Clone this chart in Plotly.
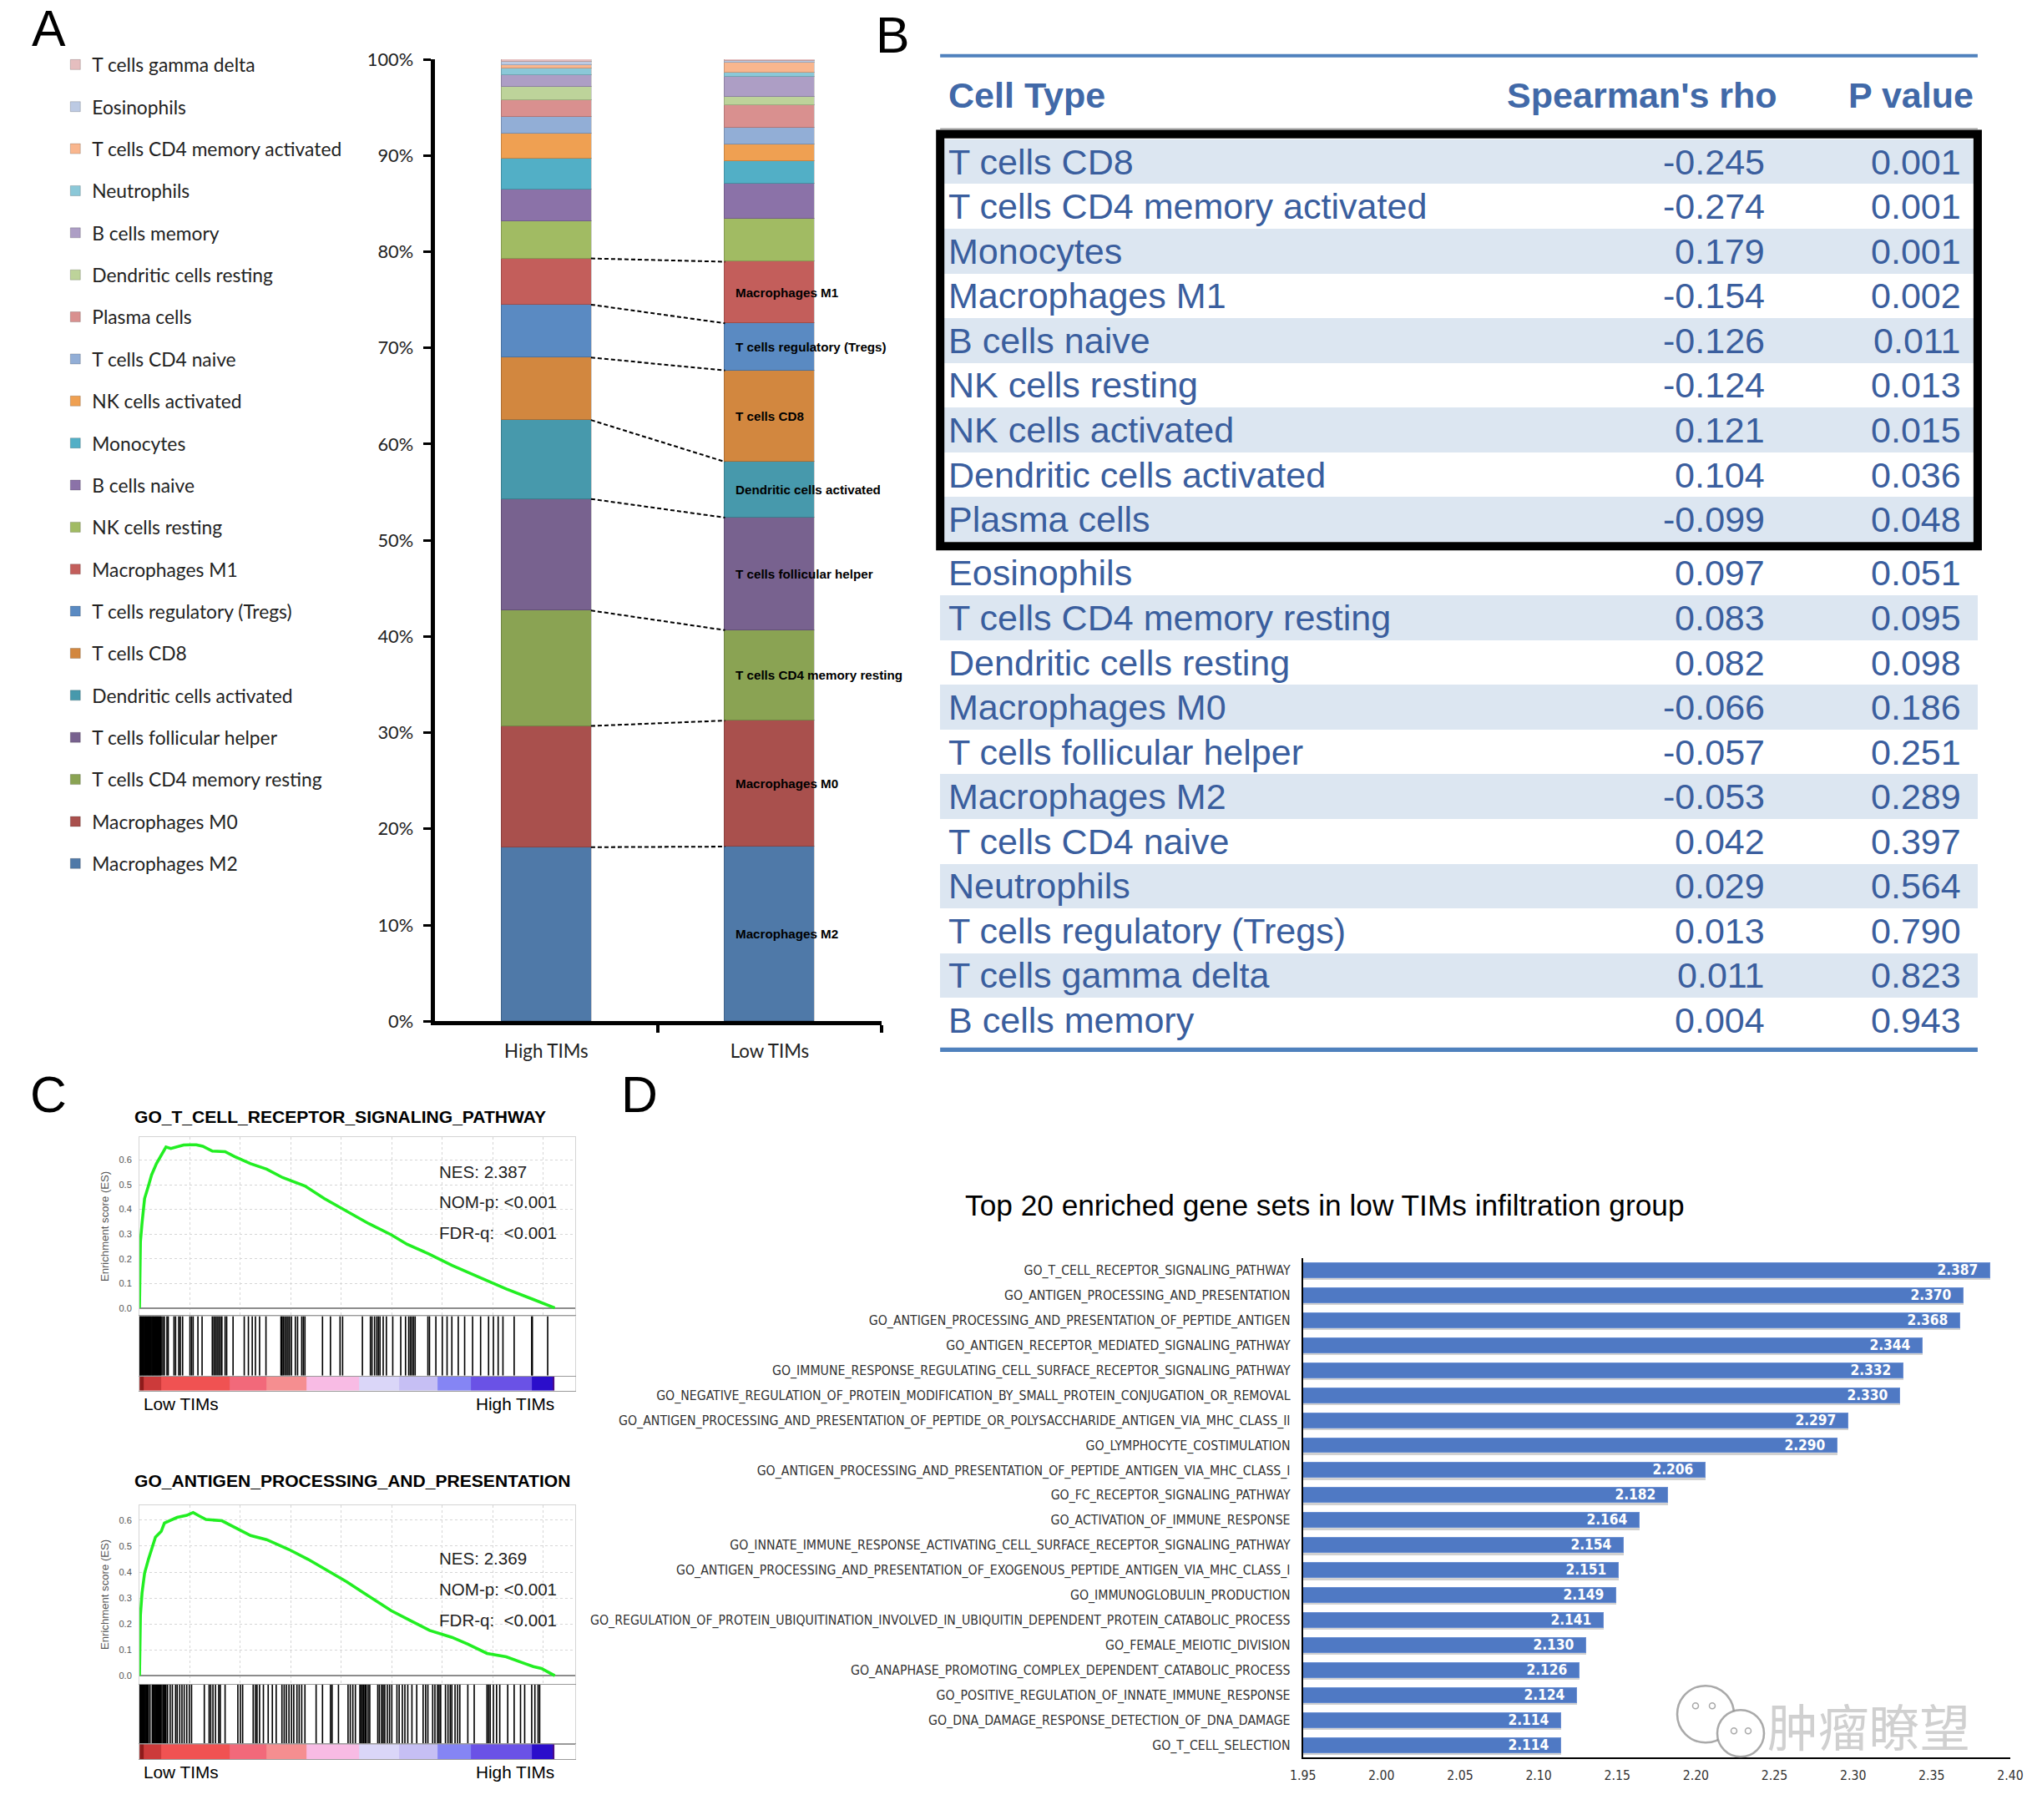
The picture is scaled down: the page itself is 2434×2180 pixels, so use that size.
import plotly.graph_objects as go

W, H = 2434, 2180
# positions below are given in target-picture pixels and mapped to page pixels
SX, OX = 0.987, 14.7
SY, OY = 0.987, 14.0
SF = 0.987

def fx(p):
    return (p - OX) / SX / W

def fy(p):
    return 1 - (p - OY) / SY / H

def fs(v):
    return v / SF

# ---------------- Panel A data ----------------
groups_a = ["High TIMs", "Low TIMs"]
cell_types_a = ["Macrophages M2", "Macrophages M0", "T cells CD4 memory resting",
                "T cells follicular helper", "Dendritic cells activated", "T cells CD8",
                "T cells regulatory (Tregs)", "Macrophages M1", "NK cells resting",
                "B cells naive", "Monocytes", "NK cells activated", "T cells CD4 naive",
                "Plasma cells", "Dendritic cells resting", "B cells memory", "Neutrophils",
                "T cells CD4 memory activated", "Eosinophils", "T cells gamma delta"]
high_tims = [18.1, 12.6, 12.0, 11.6, 8.2, 6.5, 5.5, 4.8, 3.9, 3.24, 3.22, 2.61, 1.77,
             1.67, 1.45, 1.19, 0.69, 0.37, 0.31, 0.28]
low_tims = [18.16, 13.1, 9.4, 11.7, 5.8, 9.5, 4.9, 6.4, 4.45, 3.65, 2.32, 1.8, 1.74,
            2.31, 0.87, 2.08, 0.44, 1.04, 0.2, 0.14]
colors_a = ["#4F79A8", "#A9504D", "#8AA353", "#78628F", "#4799AC", "#D2873F", "#5A8AC2",
            "#C35E5B", "#A1BB63", "#8B72A8", "#52AFC6", "#EFA052", "#92AED6", "#D9908F",
            "#BDD39A", "#AD9EC5", "#8BC8D8", "#F9B68E", "#BCCAE3", "#E5BEBF"]
n_labeled_a = 8
pct_ticks = [0, 10, 20, 30, 40, 50, 60, 70, 80, 90, 100]

# ---------------- Panel B data ----------------
table_cells = ["T cells CD8", "T cells CD4 memory activated", "Monocytes", "Macrophages M1",
               "B cells naive", "NK cells resting", "NK cells activated",
               "Dendritic cells activated", "Plasma cells", "Eosinophils",
               "T cells CD4 memory resting", "Dendritic cells resting", "Macrophages M0",
               "T cells follicular helper", "Macrophages M2", "T cells CD4 naive",
               "Neutrophils", "T cells regulatory (Tregs)", "T cells gamma delta",
               "B cells memory"]
table_rho = [-0.245, -0.274, 0.179, -0.154, -0.126, -0.124, 0.121, 0.104, -0.099, 0.097,
             0.083, 0.082, -0.066, -0.057, -0.053, 0.042, 0.029, 0.013, 0.011, 0.004]
table_p = [0.001, 0.001, 0.001, 0.002, 0.011, 0.013, 0.015, 0.036, 0.048, 0.051, 0.095,
           0.098, 0.186, 0.251, 0.289, 0.397, 0.564, 0.790, 0.823, 0.943]
table_header = ["Cell Type", "Spearman's rho", "P value"]
n_boxed = 9

# ---------------- Panel C data ----------------
gsea_titles = ["GO_T_CELL_RECEPTOR_SIGNALING_PATHWAY", "GO_ANTIGEN_PROCESSING_AND_PRESENTATION"]
gsea_nes = ["2.387", "2.369"]
es1_rank = [0, 47, 127, 253, 443, 601, 839, 1155, 1313, 1551, 1867, 2184, 2500, 2816, 3133,
            3608, 4241, 4715, 5506, 6297, 7089, 8196, 9146, 10253, 11361, 12468, 13259,
            14367, 15475, 16899, 18165, 19430, 20063, 20570]
es1_score = [0.0, 0.269, 0.345, 0.444, 0.495, 0.54, 0.585, 0.63, 0.653, 0.647, 0.653, 0.661,
             0.662, 0.662, 0.656, 0.636, 0.634, 0.614, 0.585, 0.563, 0.529, 0.495, 0.444,
             0.393, 0.342, 0.297, 0.258, 0.218, 0.173, 0.122, 0.077, 0.037, 0.015, 0.0]
es2_rank = [0, 47, 127, 253, 443, 633, 791, 1076, 1234, 1551, 1867, 2342, 2658, 2975, 3291,
            4082, 4715, 5506, 6297, 7405, 8354, 9304, 10253, 11203, 12468, 13418, 14367,
            15475, 16266, 17215, 18165, 19114, 19509, 19905, 20570]
es2_score = [0.0, 0.234, 0.32, 0.396, 0.449, 0.492, 0.535, 0.557, 0.589, 0.6, 0.611, 0.619,
             0.63, 0.616, 0.603, 0.598, 0.573, 0.541, 0.525, 0.487, 0.449, 0.406, 0.363,
             0.315, 0.251, 0.213, 0.175, 0.148, 0.122, 0.086, 0.073, 0.046, 0.035, 0.028, 0.0]
hits1 = [0, 25, 61, 90, 134, 170, 205, 241, 280, 318, 352, 395, 430, 468, 505, 541, 580,
         622, 655, 693, 730, 772, 810, 846, 885, 921, 962, 1001, 1040, 1076,
         1155, 1234, 1361, 1424, 1709, 1788, 1946, 2025, 2136, 2500, 2579, 2658, 2895, 3101,
         3607, 3686, 3765, 3844, 3924, 4003, 4082, 4240, 4319, 4635, 5189, 5395, 5585, 5743,
         5948, 6265, 7008, 7056, 7119, 7198, 7277, 7356, 7435, 7530, 7720, 7831, 8036, 8116,
         8195, 9065, 9460, 9935, 10061, 11042, 11438, 11517, 11644, 11754, 11833, 11912,
         12071, 12229, 12545, 12941, 13178, 13336, 13415, 13494, 13574, 13653, 14285, 14365,
         14681, 14998, 15235, 15472, 15789, 16105, 16500, 16896, 17291, 17529, 17766, 18003,
         18557, 19427, 19459, 20218]
hits2 = [0, 31, 68, 102, 140, 177, 215, 250, 289, 325, 362, 400, 443, 522,
         633, 668, 705, 744, 780, 818, 856, 893, 930, 968, 1005, 1040, 1076,
         1155, 1195, 1236, 1275, 1313, 1392, 1519, 1629, 1788, 1867, 1993, 2104, 2215, 2342,
         2468, 2579, 3211, 3449, 3528, 3639, 3765, 3924, 4003, 4240, 4873, 4999, 5110, 5632,
         5743, 5822, 5948, 6138, 6375, 6581, 6771, 7056, 7167, 7277, 7404, 7530, 7641, 7799,
         7910, 8036, 8195, 8749, 9065, 9460, 9539, 9856, 10330, 10441, 10568, 10694, 10916,
         10979, 11042, 11106, 11169, 11232, 11327, 11406, 11802, 11881, 11991, 12071, 12150,
         12276, 12387, 12498, 12751, 12862, 13020, 13146, 13289, 13494, 13732, 14048, 14175,
         14285, 14523, 14634, 14760, 14839, 14918, 15156, 15282, 15393, 15472, 15630, 15757,
         15867, 16263, 16579, 17212, 17291, 17370, 17529, 17687, 17845, 18240, 18557, 18873,
         19079, 19427, 19585, 19743, 19822]
rank_edges = [0, 206, 1076, 4477, 6297, 8274, 10884, 12862, 14760, 16421, 19427, 20460, 20570]
rank_colors = ["#8E1B1B", "#CC3A3A", "#F05252", "#F2697A", "#F58E90", "#F8BBE4", "#DAD6F8",
               "#C6BFF4", "#8585F4", "#6A52E6", "#2B0ECB", "#4A0C86"]
es_ticks = [0.0, 0.1, 0.2, 0.3, 0.4, 0.5, 0.6]

# ---------------- Panel D data ----------------
gene_sets = ["GO_T_CELL_RECEPTOR_SIGNALING_PATHWAY", "GO_ANTIGEN_PROCESSING_AND_PRESENTATION",
             "GO_ANTIGEN_PROCESSING_AND_PRESENTATION_OF_PEPTIDE_ANTIGEN",
             "GO_ANTIGEN_RECEPTOR_MEDIATED_SIGNALING_PATHWAY",
             "GO_IMMUNE_RESPONSE_REGULATING_CELL_SURFACE_RECEPTOR_SIGNALING_PATHWAY",
             "GO_NEGATIVE_REGULATION_OF_PROTEIN_MODIFICATION_BY_SMALL_PROTEIN_CONJUGATION_OR_REMOVAL",
             "GO_ANTIGEN_PROCESSING_AND_PRESENTATION_OF_PEPTIDE_OR_POLYSACCHARIDE_ANTIGEN_VIA_MHC_CLASS_II",
             "GO_LYMPHOCYTE_COSTIMULATION",
             "GO_ANTIGEN_PROCESSING_AND_PRESENTATION_OF_PEPTIDE_ANTIGEN_VIA_MHC_CLASS_I",
             "GO_FC_RECEPTOR_SIGNALING_PATHWAY", "GO_ACTIVATION_OF_IMMUNE_RESPONSE",
             "GO_INNATE_IMMUNE_RESPONSE_ACTIVATING_CELL_SURFACE_RECEPTOR_SIGNALING_PATHWAY",
             "GO_ANTIGEN_PROCESSING_AND_PRESENTATION_OF_EXOGENOUS_PEPTIDE_ANTIGEN_VIA_MHC_CLASS_I",
             "GO_IMMUNOGLOBULIN_PRODUCTION",
             "GO_REGULATION_OF_PROTEIN_UBIQUITINATION_INVOLVED_IN_UBIQUITIN_DEPENDENT_PROTEIN_CATABOLIC_PROCESS",
             "GO_FEMALE_MEIOTIC_DIVISION", "GO_ANAPHASE_PROMOTING_COMPLEX_DEPENDENT_CATABOLIC_PROCESS",
             "GO_POSITIVE_REGULATION_OF_INNATE_IMMUNE_RESPONSE",
             "GO_DNA_DAMAGE_RESPONSE_DETECTION_OF_DNA_DAMAGE", "GO_T_CELL_SELECTION"]
nes_values = [2.387, 2.370, 2.368, 2.344, 2.332, 2.330, 2.297, 2.290, 2.206, 2.182, 2.164,
              2.154, 2.151, 2.149, 2.141, 2.130, 2.126, 2.124, 2.114, 2.114]
d_title = "Top 20 enriched gene sets in low TIMs infiltration group"

SANS = "Liberation Sans, Arial, sans-serif"
NARROW = "Liberation Sans Narrow, DejaVu Sans Condensed, Arial Narrow, sans-serif"
CAL = "Lato, Open Sans, sans-serif"

fig = go.Figure()
annotations = []
shapes = []

# ================= Panel A =================
for k, (name, hv, lv, col) in enumerate(zip(cell_types_a, high_tims, low_tims, colors_a)):
    fig.add_trace(go.Bar(x=[0, 1], y=[hv, lv], name=name, width=0.4025,
                         marker=dict(color=col, line=dict(color="rgba(0,0,0,0.18)", width=1)),
                         legendgroup=name, legendrank=1000 - k, xaxis="x", yaxis="y",
                         hoverinfo="name+y"))

cum_h, cum_l = 0.0, 0.0
con_x, con_y = [], []
for i in range(n_labeled_a):
    lo_l = cum_l
    cum_h += high_tims[i]
    cum_l += low_tims[i]
    con_x += [0.2, 0.8, None]
    con_y += [cum_h, cum_l, None]
    annotations.append(dict(x=0.84, y=(lo_l + cum_l) / 2, xref="x", yref="y",
                            text="<b>" + cell_types_a[i] + "</b>", showarrow=False,
                            xanchor="left", yanchor="middle",
                            font=dict(family=SANS, size=fs(15), color="black")))
fig.add_trace(go.Scatter(x=con_x, y=con_y, mode="lines", showlegend=False,
                         line=dict(color="black", width=fs(2), dash="5px,3px"),
                         xaxis="x", yaxis="y", hoverinfo="skip"))

# ================= Panel B (table) =================
row_pos = [i + (0.2 if i >= n_boxed else 0.0) for i in range(len(table_cells))]
row_fill = ["#DCE6F1" if i % 2 == 0 else "rgba(255,255,255,0)" for i in range(len(table_cells))]
fig.add_trace(go.Bar(y=row_pos, x=[0.992] * len(row_pos), base=0.004, orientation="h",
                     width=1.0, marker=dict(color=row_fill, line=dict(width=0)),
                     showlegend=False, xaxis="x2", yaxis="y2", hoverinfo="skip"))
TBL_BLUE = "#3A5E9E"
for u, c, r, p in zip(row_pos, table_cells, table_rho, table_p):
    annotations.append(dict(x=0.0104, y=u, xref="x2", yref="y2", text=c, showarrow=False,
                            xanchor="left", yanchor="middle",
                            font=dict(family=SANS, size=fs(42.5), color=TBL_BLUE)))
    annotations.append(dict(x=0.794, y=u, xref="x2", yref="y2", text=f"{r:.3f}",
                            showarrow=False, xanchor="right", yanchor="middle",
                            font=dict(family=SANS, size=fs(42.5), color=TBL_BLUE)))
    annotations.append(dict(x=0.982, y=u, xref="x2", yref="y2", text=f"{p:.3f}",
                            showarrow=False, xanchor="right", yanchor="middle",
                            font=dict(family=SANS, size=fs(42.5), color=TBL_BLUE)))
hdr_x = [0.0104, 0.806, 0.9936]
hdr_anchor = ["left", "right", "right"]
for t, xx, an in zip(table_header, hdr_x, hdr_anchor):
    annotations.append(dict(x=xx, y=-1.486, xref="x2", yref="y2", text="<b>" + t + "</b>",
                            showarrow=False, xanchor=an, yanchor="middle",
                            font=dict(family=SANS, size=fs(42.5), color="#4169A8")))
shapes += [
    dict(type="line", xref="x2", yref="y2", x0=0.004, x1=0.996, y0=-2.37, y1=-2.37,
         line=dict(color="#4F81BD", width=fs(4))),
    dict(type="line", xref="x2", yref="y2", x0=0.004, x1=0.996, y0=-0.738, y1=-0.738,
         line=dict(color="#A6A6A6", width=fs(1.5))),
    dict(type="line", xref="x2", yref="y2", x0=0.004, x1=0.996, y0=19.86, y1=19.86,
         line=dict(color="#4F81BD", width=fs(5))),
    dict(type="rect", xref="x2", yref="y2", x0=0.004, x1=0.996, y0=-0.617,
         y1=n_boxed - 1 + 0.598, line=dict(color="black", width=fs(10))),
]

# ================= Panel C (GSEA) =================
gsea_specs = [
    dict(ax=("x3", "y3"), bx=("x4", "y4"), cx=("x5", "y5"), rank=es1_rank, es=es1_score,
         hits=hits1),
    dict(ax=("x6", "y6"), bx=("x7", "y7"), cx=("x8", "y8"), rank=es2_rank, es=es2_score,
         hits=hits2),
]
n_seg = len(rank_colors)
cscale = []
for k, c in enumerate(rank_colors):
    cscale.append([k / n_seg, c])
    cscale.append([(k + 1) / n_seg, c])
for spec in gsea_specs:
    fig.add_trace(go.Scatter(x=spec["rank"], y=spec["es"], mode="lines", showlegend=False,
                             line=dict(color="#22EE22", width=fs(3.5)),
                             xaxis=spec["ax"][0], yaxis=spec["ax"][1], hoverinfo="skip"))
    hx, hy = [], []
    for h in spec["hits"]:
        hx += [h, h, None]
        hy += [0, 1, None]
    fig.add_trace(go.Scatter(x=hx, y=hy, mode="lines", showlegend=False,
                             line=dict(color="black", width=fs(1.6)),
                             xaxis=spec["bx"][0], yaxis=spec["bx"][1], hoverinfo="skip"))
    fig.add_trace(go.Heatmap(x=rank_edges, y=[0, 1], z=[[k + 0.5 for k in range(n_seg)]],
                             colorscale=cscale, zmin=0, zmax=n_seg, showscale=False,
                             xaxis=spec["cx"][0], yaxis=spec["cx"][1], hoverinfo="skip"))

# ================= Panel D =================
fig.add_trace(go.Bar(y=gene_sets, x=nes_values, base=0, orientation="h", width=0.6,
                     offset=-0.22, marker=dict(color="rgba(90,90,90,0.28)", line=dict(width=0)),
                     showlegend=False, xaxis="x9", yaxis="y9", hoverinfo="skip"))
fig.add_trace(go.Bar(y=gene_sets, x=nes_values, base=0, orientation="h", width=0.6,
                     marker=dict(color="#4F79C4", line=dict(color="#6A8FD2", width=1)),
                     text=[f"{v:.3f}\u00a0\u00a0" for v in nes_values], textposition="inside",
                     insidetextanchor="end", textangle=0, constraintext="none",
                     textfont=dict(family=NARROW, size=fs(17), color="white", weight="bold"),
                     showlegend=False, xaxis="x9", yaxis="y9", hoverinfo="x+y"))

# ---------------- layout ----------------
gx = [fx(165.8), fx(687.4)]
es_axis_common = dict(showgrid=True, gridcolor="#D6D6D6", griddash="dot", gridwidth=1)

layout = dict(
    width=W, height=H, margin=dict(l=0, r=0, t=0, b=0),
    paper_bgcolor="white", plot_bgcolor="rgba(0,0,0,0)",
    barmode="stack", bargap=0,
    font=dict(family=SANS, color="#222"),
    showlegend=True,
    legend=dict(x=fx(69), y=fy(57), xanchor="left", yanchor="top",
                traceorder="grouped", tracegroupgap=fs(17.5),
                font=dict(family=CAL, size=fs(22.5), color="#222"), bgcolor="rgba(0,0,0,0)"),
    # Panel A
    xaxis=dict(domain=[fx(519.4), fx(1054.6)], range=[-0.5, 1.5], tickmode="array",
               tickvals=[0, 1], ticktext=groups_a, ticks="", showline=True, linewidth=fs(5),
               linecolor="black", showgrid=False, zeroline=False, anchor="y",
               tickfont=dict(family=CAL, size=fs(22), color="#222"), ticklabelstandoff=12,
               minor=dict(tickmode="array", tickvals=[0.5, 1.5], ticks="outside",
                          ticklen=fs(9), tickwidth=fs(4), tickcolor="black", showgrid=False)),
    yaxis=dict(domain=[fy(1223), fy(72)], range=[0, 100], tickmode="array",
               tickvals=pct_ticks, ticktext=[f"{v}%" for v in pct_ticks], ticks="outside",
               ticklen=fs(8), tickwidth=fs(3), tickcolor="black", showline=True,
               linewidth=fs(5), linecolor="black", showgrid=False, zeroline=False, anchor="x",
               tickfont=dict(family=CAL, size=fs(21.5), color="#222"), ticklabelstandoff=8),
    # Panel B
    xaxis2=dict(domain=[fx(1120), fx(2373)], range=[0, 1], visible=False, anchor="y2"),
    yaxis2=dict(domain=[fy(1265), fy(60)], range=[20.009, -2.514], visible=False,
                anchor="x2"),
    # Panel D
    xaxis9=dict(domain=[fx(1559.6), fx(2407)], range=[1.95, 2.40], dtick=0.05, tick0=1.95,
                tickformat=".2f", showline=True, linecolor="black", linewidth=fs(2),
                showgrid=False, zeroline=False, ticks="", anchor="y9",
                ticklabeloverflow="allow",
                tickfont=dict(family=NARROW, size=fs(15.5), color="#333"), ticklabelstandoff=6),
    yaxis9=dict(domain=[fy(2104), fy(1506)], type="category", categoryorder="array",
                categoryarray=gene_sets, autorange="reversed", showline=True,
                linecolor="black", linewidth=fs(2), showgrid=False, ticks="", anchor="x9",
                tickfont=dict(family=NARROW, size=fs(15.5), color="#333"),
                ticklabelstandoff=10),
)

gsea_rows = [
    dict(es=(1575, 1361.7), es_range=[-0.0305, 0.6925], bar=(1647, 1575.7), col=(1665, 1648),
         names=("3", "4", "5")),
    dict(es=(2016, 1801.7), es_range=[-0.0323, 0.659], bar=(2087.7, 2016.7),
         col=(2105.7, 2088), names=("6", "7", "8")),
]
for g in gsea_rows:
    a, b, c = g["names"]
    layout["xaxis" + a] = dict(domain=gx, range=[0, 21565], showticklabels=False, ticks="",
                               dtick=2500, tick0=0, zeroline=False, showline=True,
                               mirror=True, linecolor="#D4D4D4", anchor="y" + a,
                               **es_axis_common)
    layout["yaxis" + a] = dict(domain=[fy(g["es"][0]), fy(g["es"][1])], range=g["es_range"],
                               tickmode="array", tickvals=es_ticks, tickformat=".1f",
                               ticks="", zeroline=True, zerolinecolor="#8C8C8C",
                               zerolinewidth=1.5, showline=True, mirror=True,
                               linecolor="#D4D4D4", anchor="x" + a,
                               tickfont=dict(family=SANS, size=fs(11), color="#555"),
                               ticklabelstandoff=6,
                               title=dict(text="Enrichment score (ES)", standoff=8,
                                          font=dict(family=SANS, size=fs(13), color="#555")),
                               **es_axis_common)
    layout["xaxis" + b] = dict(domain=gx, range=[0, 21565], showticklabels=False, ticks="",
                               showgrid=False, zeroline=False, showline=True, mirror=True,
                               linecolor="#9A9A9A", anchor="y" + b)
    layout["yaxis" + b] = dict(domain=[fy(g["bar"][0]), fy(g["bar"][1])], range=[0, 1],
                               showticklabels=False, ticks="", showgrid=False,
                               zeroline=False, showline=True, mirror=True,
                               linecolor="#D4D4D4", anchor="x" + b)
    layout["xaxis" + c] = dict(domain=gx, range=[0, 21565], showticklabels=False, ticks="",
                               showgrid=False, zeroline=False, showline=True, mirror=True,
                               linecolor="#9A9A9A", anchor="y" + c)
    layout["yaxis" + c] = dict(domain=[fy(g["col"][0]), fy(g["col"][1])], range=[0, 1],
                               showticklabels=False, ticks="", showgrid=False,
                               zeroline=False, showline=True, mirror=True,
                               linecolor="#D4D4D4", anchor="x" + c)

# GSEA texts
title_y = [1337, 1773]
nes_y = [(1402.7, 1439, 1475.7), (1865, 1902, 1939)]
lowhigh_y = [1681, 2121.7]
for i in range(2):
    annotations.append(dict(x=fx(158), y=fy(title_y[i]), xref="paper", yref="paper",
                            text="<b>" + gsea_titles[i] + "</b>", showarrow=False,
                            xanchor="left", yanchor="middle",
                            font=dict(family=SANS, size=fs(20.8), color="black")))
    for t, yy in zip(["NES: " + gsea_nes[i], "NOM-p: <0.001", "FDR-q:\u00a0 <0.001"],
                     nes_y[i]):
        annotations.append(dict(x=fx(523), y=fy(yy), xref="paper", yref="paper", text=t,
                                showarrow=False, xanchor="left", yanchor="middle",
                                font=dict(family=SANS, size=fs(20.3), color="#222")))
    annotations.append(dict(x=fx(169), y=fy(lowhigh_y[i]), xref="paper", yref="paper",
                            text="Low TIMs", showarrow=False, xanchor="left",
                            yanchor="middle",
                            font=dict(family=SANS, size=fs(20.5), color="black")))
    annotations.append(dict(x=fx(665), y=fy(lowhigh_y[i]), xref="paper", yref="paper",
                            text="High TIMs", showarrow=False, xanchor="right",
                            yanchor="middle",
                            font=dict(family=SANS, size=fs(20.5), color="black")))

# Panel D title
annotations.append(dict(x=fx(1586), y=fy(1443), xref="paper", yref="paper", text=d_title,
                        showarrow=False, xanchor="center", yanchor="middle",
                        font=dict(family=SANS, size=fs(34.8), color="black")))
# watermark (chat-bubble logo + text)
WM = "rgba(140,140,140,0.75)"
for cx_, cy_, r_ in [(2042, 2052, 34), (2084, 2075, 28)]:
    shapes.append(dict(type="circle", xref="paper", yref="paper",
                       x0=fx(cx_ - r_), x1=fx(cx_ + r_), y0=fy(cy_ + r_), y1=fy(cy_ - r_),
                       fillcolor="white", line=dict(color=WM, width=fs(2.5))))
for cx_, cy_ in [(2030, 2042), (2050, 2042), (2076, 2072), (2093, 2072)]:
    shapes.append(dict(type="circle", xref="paper", yref="paper",
                       x0=fx(cx_ - 3.5), x1=fx(cx_ + 3.5), y0=fy(cy_ + 3.5), y1=fy(cy_ - 3.5),
                       fillcolor="white", line=dict(color=WM, width=fs(1.5))))
annotations.append(dict(x=fx(2238), y=fy(2064), xref="paper", yref="paper", text="肿瘤瞭望",
                        showarrow=False, xanchor="center", yanchor="middle",
                        font=dict(family="Noto Sans CJK SC", size=fs(60),
                                  color="rgba(150,150,150,0.45)")))

# Panel letters
for letter, px_, py_ in [("A", 57, 35), ("B", 1068, 43), ("C", 57, 1311), ("D", 765, 1311)]:
    annotations.append(dict(x=fx(px_), y=fy(py_), xref="paper", yref="paper", text=letter,
                            showarrow=False, xanchor="center", yanchor="middle",
                            font=dict(family=SANS, size=fs(60), color="black")))

layout["annotations"] = annotations
layout["shapes"] = shapes
fig.update_layout(**layout)
fig.write_html("out.html", config={"displayModeBar": False},
               post_script="document.body.style.margin='0px';document.body.style.overflow='hidden';")
